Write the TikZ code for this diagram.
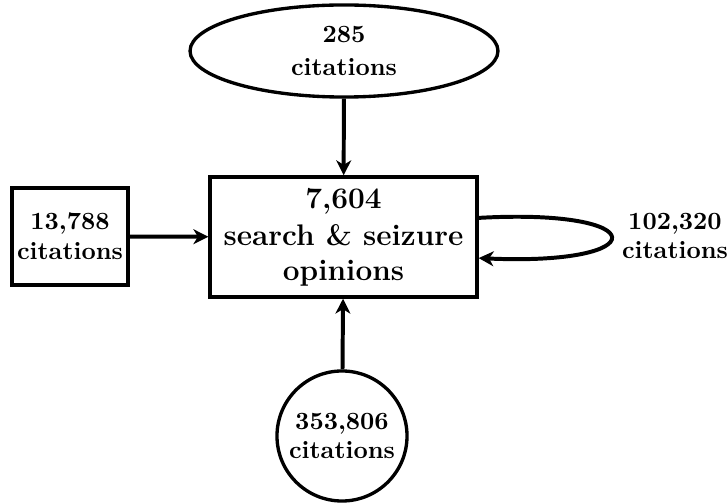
\documentclass[tikz,border=0pt]{standalone}
\usetikzlibrary{arrows.meta,shapes.geometric}
\begin{document}
\begin{tikzpicture}[x=0.403pt,y=-0.403pt,
  every node/.style={font=\bfseries, align=center, inner sep=0pt},
  border/.style={draw, line width=1.35pt},
  link/.style={line width=1.6pt, -{Stealth[length=6pt,width=6pt,inset=1.8pt]}}]
\useasboundingbox (0,0) rectangle (728,503);

% central set of opinions
\node[border, rectangle, minimum width=107.6pt, minimum height=48.4pt,
      font=\bfseries\large] (core) at (343.5,237)
  {7,604\\[1pt]search \& seizure\\opinions};

% citing sources
\node[border, ellipse, minimum width=124.1pt, minimum height=37.1pt] (top) at (344,51)
  {285\\[1pt]citations};
\node[border, rectangle, minimum width=46.7pt, minimum height=39.1pt] (left) at (70,236.5)
  {13,788\\citations};
\node[border, circle, minimum size=52.4pt] (bottom) at (342,436)
  {353,806\\citations};
\node (self) at (675,236) {102,320\\citations};

% citation flows
\draw[link] (top) -- (core);
\draw[link] (left) -- (core);
\draw[link] (bottom) -- (core);
\draw[link] ([yshift=7.7pt]core.east) .. controls (655,208) and (655,266) .. ([yshift=-8.5pt]core.east);
\end{tikzpicture}
\end{document}
